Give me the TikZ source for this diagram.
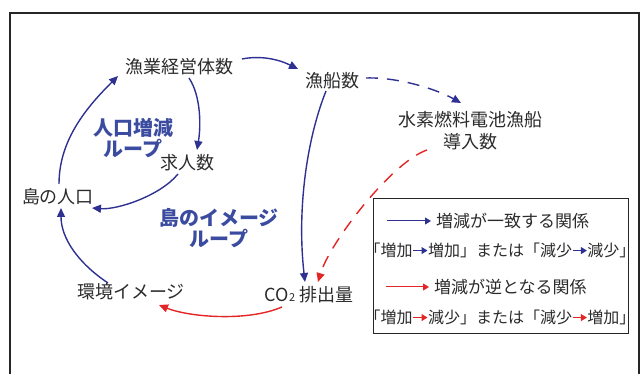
\documentclass[tikz,border=0pt]{standalone}
\usepackage{fontspec}
\setmainfont{Noto Sans CJK JP}
\usetikzlibrary{arrows.meta}
\definecolor{navy}{HTML}{2E3192}
\definecolor{redl}{HTML}{E42526}
\definecolor{loopblue}{HTML}{3A4BA0}
\definecolor{ink}{HTML}{2B2B2B}
\newcommand\legarrow[1]{\tikz[baseline=0pt]{\path (0,0) -- (15pt,0);\draw[#1,line width=1pt,-{Triangle[length=6pt,width=7pt]}] (0.3pt,5.5pt) -- (14.7pt,5.5pt);}}
\begin{document}
\begin{tikzpicture}[x=1pt,y=-1pt,
  txt/.style={text=ink,font=\fontsize{18}{22}\selectfont,inner sep=0pt,align=center},
  looplbl/.style={text=loopblue,font=\bfseries\fontsize{20}{21}\selectfont,inner sep=0pt,align=center},
  legtxt/.style={text=ink,font=\fontsize{17}{20}\selectfont,inner sep=0pt},
  legtxtb/.style={text=ink,font=\fontsize{16}{20}\selectfont,inner sep=0pt},
  posarr/.style={draw=navy,line width=1.4pt,-{Triangle[length=9pt,width=8pt]}},
  negarr/.style={draw=redl,line width=1.4pt,-{Triangle[length=9pt,width=8pt]}},
  dsh/.style={dash pattern=on 12pt off 9pt}]
\useasboundingbox (0,0) rectangle (641,374);
% outer frame (bottom edge lies outside the picture)
\draw[line width=1.6pt,black!85] (10,374) -- (10,13) -- (639,13) -- (639,374);

% nodes
\node[txt] (gy) at (179,67) {漁業経営体数};
\node[txt] (sen) at (332,81) {漁船数};
\node[txt] (h2) at (470,131) {水素燃料電池漁船\\導入数};
\node[txt] (kyu) at (187,163) {求人数};
\node[txt] (shima) at (58,197) {島の人口};
\node[txt] (kan) at (131,292) {環境イメージ};
\node[txt] (co2) at (309,295) {CO{\fontsize{11}{11}\selectfont 2} 排出量};

\node[looplbl] (loop1) at (133,138) {人口増減\\ループ};
\node[looplbl] (loop2) at (219,228) {島のイメージ\\ループ};

% connectors
\draw[posarr] ([shift={(63,-8)}]gy.center) .. controls +(20,-4) and +(-18,-9) .. ([shift={(-34,-12)}]sen.center);
\draw[posarr,dsh] ([shift={(34,-3)}]sen.center) .. controls +(32,-1) and +(-25,-14) .. ([shift={(-9,-28)}]h2.center);
\draw[posarr] ([shift={(10,11)}]gy.center) .. controls +(12,18) and +(4,-24) .. ([shift={(10,-13)}]kyu.center);
\draw[posarr] ([shift={(-9,11)}]kyu.center) .. controls +(-18,22) and +(25,2) .. ([shift={(34,11)}]shima.center);
\draw[posarr] ([shift={(1,-13)}]shima.center) .. controls +(0,-45) and +(-30,30) .. ([shift={(-61,9)}]gy.center);
\draw[posarr] ([shift={(-23,-9)}]kan.center) .. controls +(-30,-20) and +(0,30) .. ([shift={(3,11)}]shima.center);
\draw[posarr] ([shift={(-6,10)}]sen.center) .. controls +(-20,50) and +(-8,-70) .. ([shift={(-4,-13)}]co2.center);
\draw[negarr,dsh] ([shift={(-43,19)}]h2.center) .. controls +(-35,12) and +(12,-40) .. ([shift={(9,-13)}]co2.center);
\draw[negarr] ([shift={(-27,12)}]co2.center) .. controls +(-35,15) and +(30,12) .. ([shift={(28,13)}]kan.center);

% legend
\node[draw=black!85,line width=0.9pt,minimum width=255pt,minimum height=135pt,inner sep=0pt] (leg) at (500.5,265.5) {};
\coordinate (l1a) at (387,221);
\coordinate (l1b) at (431,221);
\draw[navy,line width=1pt,-{Triangle[length=6pt,width=7pt]}] (l1a) -- (l1b);
\node[legtxt,anchor=west] (l1t) at (436,221) {増減が一致する関係};
\node[legtxtb] (l2t) at (500,250) {「増加\legarrow{navy}増加」または「減少\legarrow{navy}減少」};
\coordinate (l3a) at (386,287);
\coordinate (l3b) at (429,287);
\draw[redl,line width=1pt,-{Triangle[length=6pt,width=7pt]}] (l3a) -- (l3b);
\node[legtxt,anchor=west] (l3t) at (434,287) {増減が逆となる関係};
\node[legtxtb] (l4t) at (500,317) {「増加\legarrow{redl}減少」または「減少\legarrow{redl}増加」};
\end{tikzpicture}
\end{document}
